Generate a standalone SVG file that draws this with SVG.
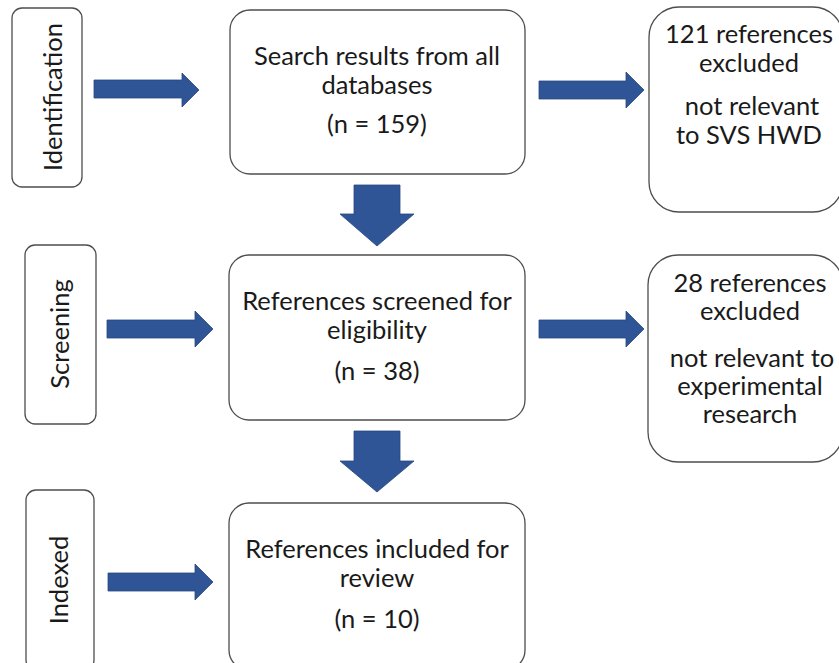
<svg xmlns="http://www.w3.org/2000/svg" width="839" height="663" viewBox="0 0 839 663">
<style>
.box{fill:#fff;stroke:#4d4d4d;stroke-width:1.3}
.arr{fill:#2f5597;stroke:#26487f;stroke-width:0.8}
text{font-family:Lato,"Liberation Sans",sans-serif;font-size:25.5px;fill:#1a1a1a;text-anchor:middle}
</style>
<rect width="839" height="663" fill="#fff"/>
<g id="identification">
<rect class="box" x="12" y="8" width="70" height="179" rx="10"/>
<text transform="translate(62,97) rotate(-90)">Identification</text>
</g>
<g id="screening">
<rect class="box" x="25" y="245" width="71" height="179" rx="10"/>
<text transform="translate(69,334) rotate(-90)">Screening</text>
</g>
<g id="indexed">
<rect class="box" x="26" y="490" width="68" height="180" rx="10"/>
<text transform="translate(68,580) rotate(-90)">Indexed</text>
</g>
<g id="search">
<rect class="box" x="230" y="10" width="295" height="164" rx="20"/>
<text x="377" y="65">Search results from all</text>
<text x="377" y="94">databases</text>
<text x="377" y="133">(n = 159)</text>
</g>
<g id="screened">
<rect class="box" x="229" y="255" width="296" height="165" rx="20"/>
<text x="377" y="310">References screened for</text>
<text x="377" y="339">eligibility</text>
<text x="377" y="380">(n = 38)</text>
</g>
<g id="included">
<rect class="box" x="229" y="503" width="296" height="167" rx="20"/>
<text x="377" y="558">References included for</text>
<text x="377" y="587">review</text>
<text x="377" y="628">(n = 10)</text>
</g>
<g id="excluded1">
<rect class="box" x="649" y="7" width="194" height="205" rx="30"/>
<text x="749" y="43">121 references</text>
<text x="749" y="72">excluded</text>
<text x="752" y="115">not relevant</text>
<text x="749" y="144">to SVS HWD</text>
</g>
<g id="excluded2">
<rect class="box" x="648" y="255" width="195" height="207" rx="30"/>
<text x="750" y="292">28 references</text>
<text x="750" y="320">excluded</text>
<text x="752" y="367">not relevant to</text>
<text x="750" y="395">experimental</text>
<text x="750" y="423">research</text>
</g>
<g id="connectors">
<polygon class="arr" points="94,80 182,80 182,73 199,90 182,107 182,98 94,98"/>
<polygon class="arr" points="107,320 195,320 195,311 213,329 195,347 195,338 107,338"/>
<polygon class="arr" points="108,573 195,573 195,564 213,582 195,600 195,591 108,591"/>
<polygon class="arr" points="539,81 626,81 626,72 644,90 626,108 626,99 539,99"/>
<polygon class="arr" points="539,320 626,320 626,311 644,329 626,347 626,338 539,338"/>
<polygon class="arr" points="354,185 400,185 400,214 414,214 377,246 340,214 354,214"/>
<polygon class="arr" points="354,431 400,431 400,461 414,461 377,492 340,461 354,461"/>
</g>
</svg>
